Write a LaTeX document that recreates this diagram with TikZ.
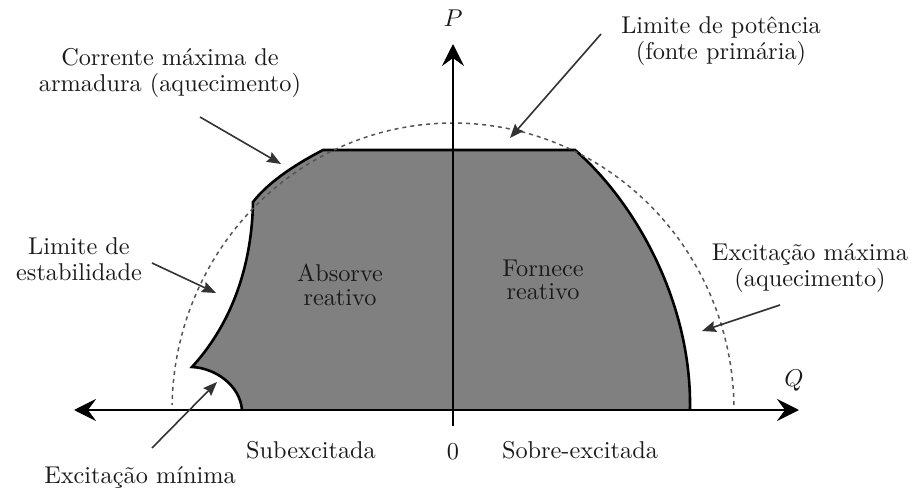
\documentclass[tikz,border=0pt]{standalone}
\usepackage{fontspec}
\usetikzlibrary{arrows.meta}
\definecolor{regiongray}{HTML}{808080}
\definecolor{annot}{HTML}{333333}
\definecolor{dashgray}{HTML}{555555}
\definecolor{txt}{HTML}{1A1A1A}
\begin{document}
\begin{tikzpicture}[x=1pt,y=-1pt,
  lbl/.style={inner sep=0pt,align=center,text=txt,scale=2.43,font=\fontsize{10}{10.8}\selectfont},
  inlbl/.style={lbl,font=\fontsize{10}{9.6}\selectfont},
  axis/.style={line width=2.8pt,-{Stealth[length=22pt,width=22pt,inset=8pt]}},
  bound/.style={line width=2.6pt,line join=miter},
  callout/.style={annot,line width=1.6pt,-{Stealth[length=14pt,width=11pt,inset=2pt]}},
  limcircle/.style={dashgray,line width=1.5pt,dash pattern=on 4pt off 4pt}]
\useasboundingbox (0,0) rectangle (914,495);
% key points of the capability region
\coordinate (tl) at (323,150);
\coordinate (tr) at (575,150);
\coordinate (br) at (690,410);
\coordinate (bl) at (242,410);
\coordinate (ar) at (253,202);
\coordinate (mn) at (192,367);
% region
\fill[regiongray] (bl) -- (br) .. controls (692,300) and (633,200) .. (tr) -- (tl)
  .. controls (300,162) and (270,180) .. (ar)
  .. controls (252,260) and (235,320) .. (mn)
  .. controls (215,368) and (240,385) .. (bl) -- cycle;
\draw[bound] (br) .. controls (692,300) and (633,200) .. (tr) -- (tl)
  .. controls (300,162) and (270,180) .. (ar)
  .. controls (252,260) and (235,320) .. (mn)
  .. controls (215,368) and (240,385) .. (bl);
% dashed limit circle
\draw[limcircle] plot[domain=1:179,samples=90] ({453+281*cos(\x)},{410-287*sin(\x)});
% axes
\coordinate (o) at (453,410);
\coordinate (qpos) at (799,410);
\coordinate (qneg) at (74,410);
\coordinate (pbot) at (453,426);
\coordinate (ptop) at (453,44);
\draw[axis] (o) -- (qpos);
\draw[axis] (o) -- (qneg);
\draw[axis] (pbot) -- (ptop);
\node[lbl] (P) at (453,18) {$P$};
\node[lbl] (Q) at (794,381) {$Q$};
\node[lbl] (zero) at (453,452) {0};
\node[lbl] (sub) at (311,450) {Subexcitada};
\node[lbl] (sobre) at (580,450) {Sobre-excitada};
\node[inlbl] (abs) at (340,285) {Absorve\\reativo};
\node[inlbl] (forn) at (543,280) {Fornece\\reativo};
% callouts
\node[lbl] (corr) at (170,73) {Corrente máxima de\\armadura (aquecimento)};
\node[lbl] (pot) at (721,41) {Limite de potência\\(fonte primária)};
\node[lbl] (estab) at (79,259) {Limite de\\estabilidade};
\node[lbl] (exmax) at (810,268) {Excitação máxima\\(aquecimento)};
\node[lbl] (exmin) at (140,477) {Excitação mínima};
\coordinate (c1s) at (200,117); \coordinate (c1e) at (281,164);
\coordinate (c2s) at (601,34);  \coordinate (c2e) at (510,138);
\coordinate (c3s) at (152,263); \coordinate (c3e) at (216,293);
\coordinate (c4s) at (780,305); \coordinate (c4e) at (702,331);
\coordinate (c5s) at (152,448); \coordinate (c5e) at (217,382);
\draw[callout] (c1s) -- (c1e);
\draw[callout] (c2s) -- (c2e);
\draw[callout] (c3s) -- (c3e);
\draw[callout] (c4s) -- (c4e);
\draw[callout] (c5s) -- (c5e);
\end{tikzpicture}
\end{document}
